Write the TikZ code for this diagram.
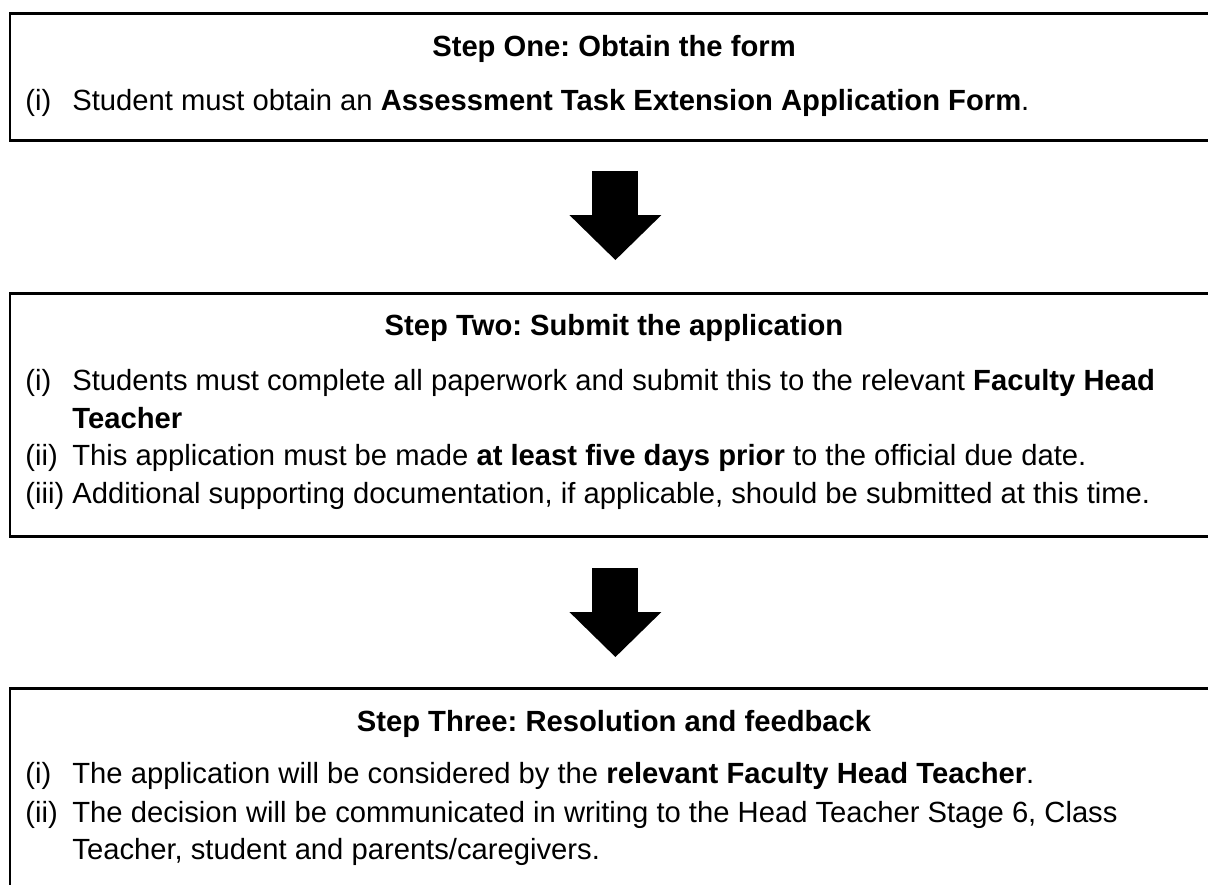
\documentclass[tikz,border=0pt]{standalone}
\usepackage{fontspec}
\setmainfont{Liberation Sans}
\frenchspacing
\usetikzlibrary{arrows.meta, positioning}
\tikzset{
  stepbox/.style ={rectangle, draw=black, line width=1.4pt, anchor=north west, inner sep=0pt, minimum width=605.5pt},
  steptitle/.style={anchor=base, inner sep=0pt, font=\fontsize{14.6}{17}\selectfont\bfseries},
  stepnum/.style ={anchor=base west, inner sep=0pt, font=\fontsize{14.6}{17}\selectfont},
  steptxt/.style ={anchor=base west, inner sep=0pt, font=\fontsize{14.6}{17}\selectfont},
  bigarr/.style  ={-{Triangle[length=22.5pt, width=46pt, line width=0pt]}, line width=23pt},
}
\begin{document}
\begin{tikzpicture}[x=0.5pt, y=-0.5pt]
  \useasboundingbox (0,0) rectangle (1208,884);
  % step one
  \node[stepbox, minimum height=63.5pt] (b1) at (8.5,12) {};
  \node[steptitle] (t1) at (614,56) {Step One: Obtain the form};
  \node[stepnum] (n1a) at (25,110) {(i)};
  \node[steptxt] (s1a) at (72,110) {Student must obtain an \textbf{Assessment Task Extension Application Form}.};
  % step two
  \node[stepbox, minimum height=121.5pt] (b2) at (8.5,292) {};
  \node[steptitle] (t2) at (614,335) {Step Two: Submit the application};
  \node[stepnum] (n2a) at (25,390) {(i)};
  \node[steptxt] (s2a) at (72,390) {Students must complete all paperwork and submit this to the relevant \textbf{Faculty Head}};
  \node[steptxt] (s2b) at (72,428) {\textbf{Teacher}};
  \node[stepnum] (n2c) at (25,465) {(ii)};
  \node[steptxt] (s2c) at (72,465) {This application must be made \textbf{at least five days prior} to the official due date.};
  \node[stepnum] (n2d) at (25,503) {(iii)};
  \node[steptxt] (s2d) at (72,503) {Additional supporting documentation, if applicable, should be submitted at this time.};
  % step three
  \node[stepbox, minimum height=110pt] (b3) at (8.5,687) {};
  \node[steptitle] (t3) at (614,731) {Step Three: Resolution and feedback};
  \node[stepnum] (n3a) at (25,783) {(i)};
  \node[steptxt] (s3a) at (72,783) {The application will be considered by the \textbf{relevant Faculty Head Teacher}.};
  \node[stepnum] (n3b) at (25,822) {(ii)};
  \node[steptxt] (s3b) at (72,822) {The decision will be communicated in writing to the Head Teacher Stage 6, Class};
  \node[steptxt] (s3c) at (72,859) {Teacher, student and parents/caregivers.};
  % arrows
  \draw[bigarr, shorten <=14.5pt, shorten >=16pt] (b1) -- (b2);
  \draw[bigarr, shorten <=15pt, shorten >=15pt] (b2) -- (b3);
\end{tikzpicture}
\end{document}
